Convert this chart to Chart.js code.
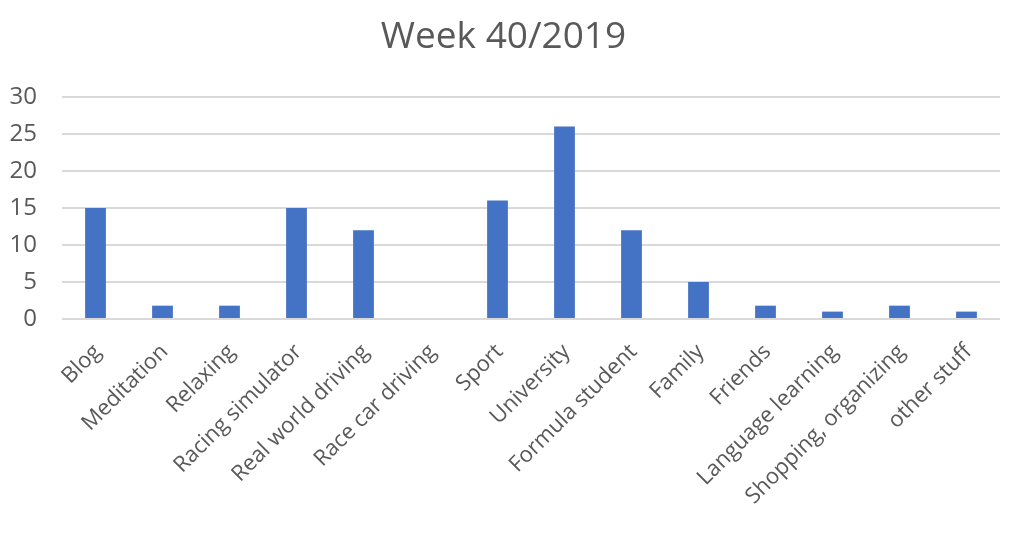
<!DOCTYPE html>
<html>
<head>
<meta charset="utf-8">
<script src="https://cdn.jsdelivr.net/npm/chart.js@4/dist/chart.umd.min.js"></script>
<style>
html,body{margin:0;padding:0;background:#fff;}
#wrap{width:1023px;height:533px;}
</style>
</head>
<body>
<div id="wrap"><canvas id="c" width="1023" height="533"></canvas></div>
<script>
const categories = ["Blog","Meditation","Relaxing","Racing simulator","Real world driving","Race car driving","Sport","University","Formula student","Family","Friends","Language learning","Shopping, organizing","other stuff"];
const hours = [15,1.8,1.8,15,12,0,16,26,12,5,1.8,1,1.8,1];
const yTicks = [0,5,10,15,20,25,30];
const titleText = "Week 40/2019";

const FONT = '"Open Sans", sans-serif';

new Chart(document.getElementById('c'), {
  type: 'bar',
  data: {
    labels: categories,
    datasets: [{
      data: hours,
      backgroundColor: '#4472C4',
      borderColor: '#4472C4',
      borderWidth: 0,
      barPercentage: 0.31,
      categoryPercentage: 1.0
    }]
  },
  options: {
    responsive: false,
    animation: false,
    devicePixelRatio: 1,
    layout: { padding: { left: 7, right: 23, top: 0, bottom: 0 } },
    plugins: {
      legend: { display: false },
      tooltip: { enabled: false },
      title: {
        display: true,
        text: titleText,
        color: '#595959',
        font: { family: FONT, size: 37, weight: 'normal' },
        padding: { top: 15, bottom: 37.6 }
      }
    },
    scales: {
      y: {
        min: 0, max: 30,
        afterBuildTicks: (s) => { s.ticks = yTicks.map(v => ({ value: v })); },
        ticks: {
          color: '#595959',
          font: { family: FONT, size: 24 },
          padding: 25
        },
        grid: { color: '#d9d9d9', lineWidth: 2, drawTicks: false },
        border: { display: false },
        afterFit: (s) => { s.width = 55; }
      },
      x: {
        grid: { display: false },
        border: { display: false },
        ticks: {
          color: '#595959',
          font: { family: FONT, size: 22 },
          minRotation: 45, maxRotation: 45,
          padding: 12,
          labelOffset: 2,
          autoSkip: false
        },
        afterFit: (s) => { s.height = 214; }
      }
    }
  }
});
</script>
</body>
</html>
